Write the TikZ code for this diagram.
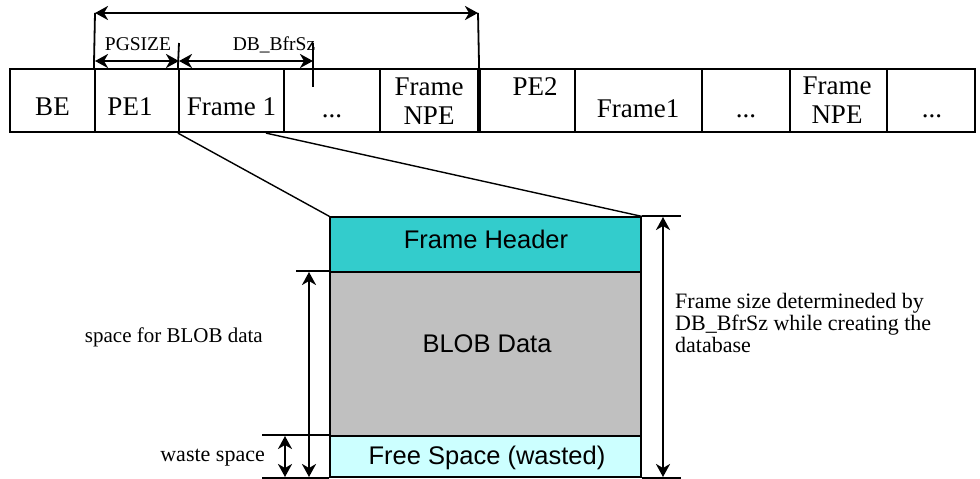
\documentclass[tikz,border=0pt]{standalone}
\usepackage{fontspec}
\setmainfont{Liberation Serif}
\newfontfamily\boxfont{Liberation Sans}
\usetikzlibrary{arrows.meta}
\definecolor{hdrcyan}{HTML}{33CCCC}
\definecolor{blobgray}{HTML}{C0C0C0}
\definecolor{freecyan}{HTML}{CCFFFF}
\tikzset{
  cell/.style={draw, line width=2.2pt, minimum height=63pt, inner sep=0pt},
  part/.style={draw, line width=1.3pt, minimum width=311pt, inner sep=0pt},
  dim/.style={line width=2.3pt, {Stealth[length=13pt,width=14pt,inset=4pt]}-{Stealth[length=13pt,width=14pt,inset=4pt]}},
  tick/.style={line width=1.8pt},
  toptxt/.style={font=\fontsize{27}{30}\selectfont, anchor=base, inner sep=0pt},
  smalltxt/.style={font=\fontsize{19.5}{22}\selectfont, anchor=base, inner sep=0pt},
  notetxt/.style={font=\fontsize{22}{22}\selectfont, inner sep=0pt},
  parttxt/.style={font=\boxfont\fontsize{25.5}{28}\selectfont, anchor=base, inner sep=0pt}
}
\begin{document}
\begin{tikzpicture}[x=1pt,y=-1pt]
\useasboundingbox (0,0) rectangle (980,479);
% the row of pages and frames
\foreach \a/\b/\n in {10/95/be,95/179/pe1,179/284/fa,284/380/da,380/478/na,480/575/pe2,575/702/fb,702/790/db,790/887/nb,887/975/dc}
  \node[cell, minimum width={(\b-\a)*1pt}] (\n) at ({(\a+\b)/2},100.5) {};
\node[toptxt] at (52.5,115) {BE};
\node[toptxt] at (130,115) {PE1};
\node[toptxt] at (231.5,115) {Frame 1};
\node[toptxt] at (332,117) {...};
\node[toptxt] at (429,95) {Frame};
\node[toptxt] at (429,124) {NPE};
\node[toptxt] at (535,95) {PE2};
\node[toptxt] at (638,117) {Frame1};
\node[toptxt] at (746,117) {...};
\node[toptxt] at (837,94) {Frame};
\node[toptxt] at (837,123) {NPE};
\node[toptxt] at (932,117) {...};
% sizes over the row
\coordinate (topL) at (95,13);
\coordinate (topR) at (478,13);
\draw[tick] (topL) -- (pe1.north west);
\draw[tick] (topR) -- (na.north east);
\draw[dim] (topL) -- (topR);
\coordinate (pgL) at (95,61);
\coordinate (pgR) at (179,61);
\coordinate (bfR) at (313,61);
\draw[tick] (179,43) -- (fa.north west);
\draw[tick] (313,43) -- (313,87);
\draw[dim] (pgL) -- (pgR);
\draw[dim] (pgR) -- (bfR);
\node[smalltxt] at (138,50) {PGSIZE};
\node[smalltxt] at (274,50) {DB\_BfrSz};
% one frame, enlarged
\node[part, fill=hdrcyan, minimum height=55pt] (hdr) at (485.5,244.5) {};
\node[part, fill=blobgray, minimum height=164pt] (blob) at (485.5,354) {};
\node[part, fill=freecyan, minimum height=41pt] (free) at (485.5,456.5) {};
\node[parttxt] at (486,248) {Frame Header};
\node[parttxt] at (487,352) {BLOB Data};
\node[parttxt] at (487,464) {Free Space (wasted)};
\draw[line width=1.4pt] (fa.south west) -- (hdr.north west);
\draw[line width=1.4pt] ([xshift=34.5pt]fa.south) -- (hdr.north east);
% frame size
\draw[tick] (hdr.north east) -- ++(39,0) coordinate (fsT);
\draw[tick] (free.south east) -- ++(39,0) coordinate (fsB);
\draw[dim] (663,217) -- (663,477);
\node[notetxt, anchor=north west, align=left] at (675,293) {Frame size determineded by\\DB\_BfrSz while creating the\\database};
% blob space and waste
\draw[tick] (blob.north west) -- ++(-33,0);
\draw[tick] (free.north west) -- ++(-67,0);
\draw[tick] (free.south west) -- ++(-67,0);
\draw[dim] (309,272) -- (309,477);
\draw[dim] (285,436) -- (285,477);
\node[notetxt, anchor=base east, font=\fontsize{21}{22}\selectfont] at (263,342) {space for BLOB data};
\node[notetxt, anchor=base east] at (265,461) {waste space};
\end{tikzpicture}
\end{document}
